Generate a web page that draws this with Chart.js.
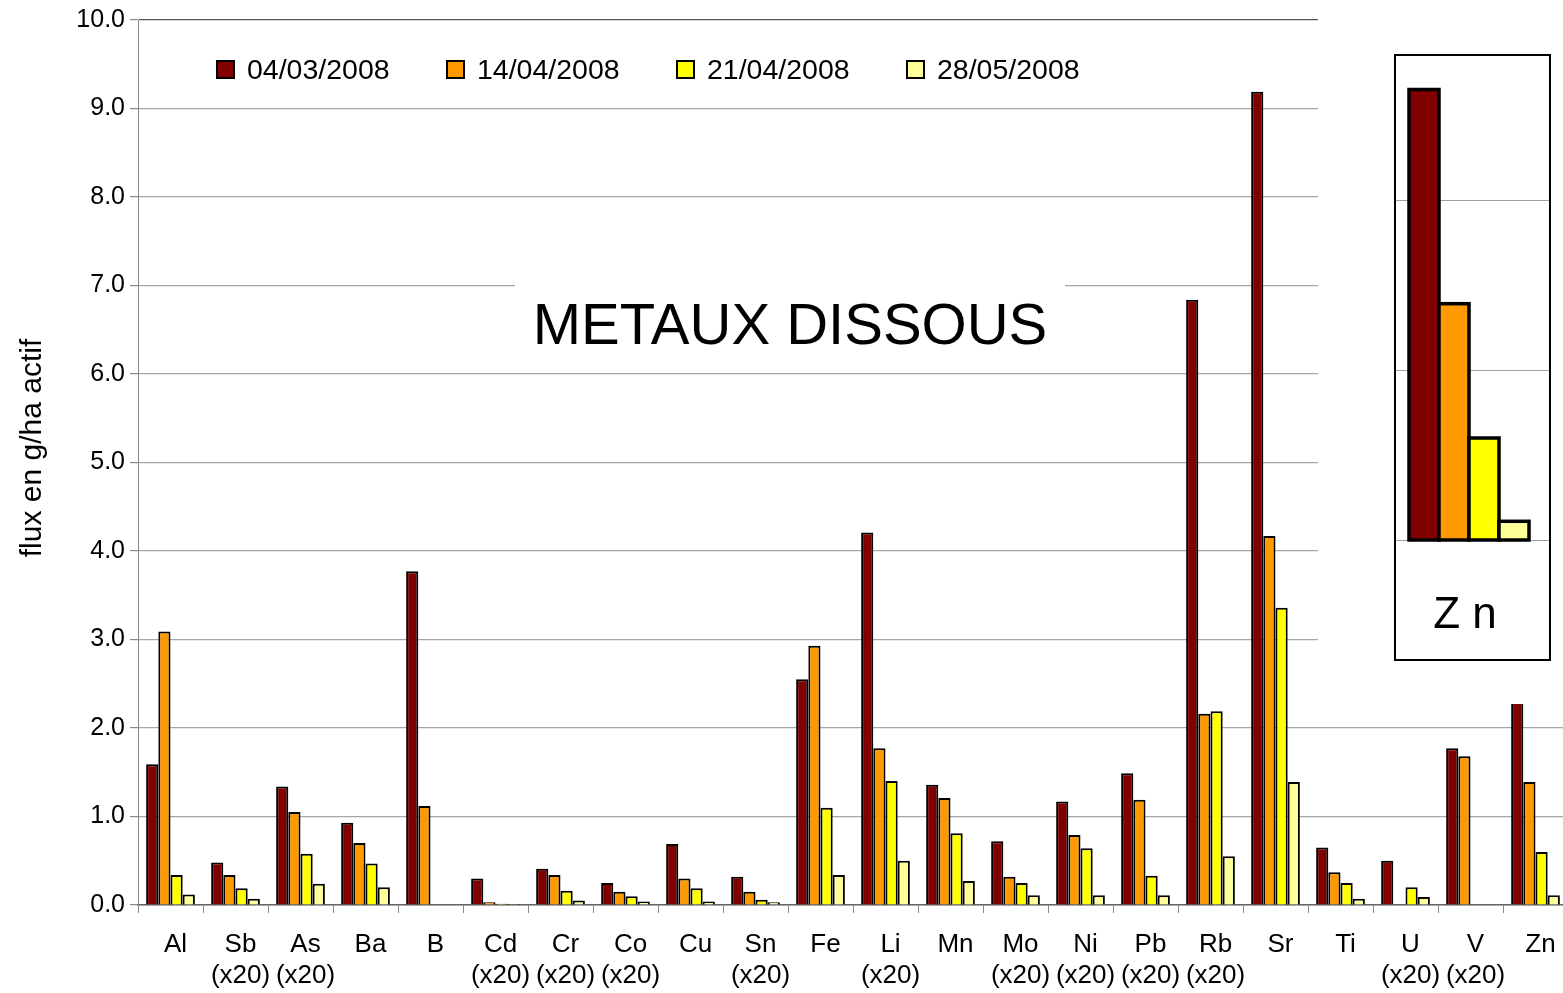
<!DOCTYPE html>
<html>
<head>
<meta charset="utf-8">
<style>
  html, body { margin: 0; padding: 0; background: #fff; overflow: hidden; }
  canvas { display: block; }
</style>
<script src="https://cdn.jsdelivr.net/npm/chart.js@4/dist/chart.umd.min.js"></script>
</head>
<body>
<canvas id="chart-metaux" width="1570" height="993"></canvas>
<script>
// Data -------------------------------------------------------------------
var elements = [
  ["Al"], ["Sb", "(x20)"], ["As", "(x20)"], ["Ba"], ["B"], ["Cd", "(x20)"],
  ["Cr", "(x20)"], ["Co", "(x20)"], ["Cu"], ["Sn", "(x20)"], ["Fe"], ["Li", "(x20)"],
  ["Mn"], ["Mo", "(x20)"], ["Ni", "(x20)"], ["Pb", "(x20)"], ["Rb", "(x20)"], ["Sr"],
  ["Ti"], ["U", "(x20)"], ["V", "(x20)"], ["Zn"]
];
var dates = ["04/03/2008", "14/04/2008", "21/04/2008", "28/05/2008"];
var flux0403 = [1.59, 0.48, 1.34, 0.93, 3.77, 0.30, 0.41, 0.25, 0.69, 0.32, 2.55, 4.21, 1.36, 0.72, 1.17, 1.49, 6.84, 9.19, 0.65, 0.50, 1.77, 2.65];
var flux1404 = [3.09, 0.34, 1.05, 0.70, 1.12, 0.03, 0.34, 0.15, 0.30, 0.15, 2.93, 1.77, 1.21, 0.32, 0.79, 1.19, 2.16, 4.17, 0.37, null, 1.68, 1.39];
var flux2104 = [0.34, 0.19, 0.58, 0.47, null, 0.015, 0.16, 0.10, 0.19, 0.06, 1.10, 1.40, 0.81, 0.25, 0.64, 0.33, 2.19, 3.36, 0.25, 0.20, null, 0.60];
var flux2805 = [0.12, 0.07, 0.24, 0.20, null, 0.01, 0.05, 0.04, 0.04, 0.03, 0.34, 0.50, 0.27, 0.11, 0.11, 0.11, 0.55, 1.39, 0.07, 0.09, null, 0.11];
var yTicks = [0, 1, 2, 3, 4, 5, 6, 7, 8, 9, 10];
var colours = ["#800000", "#ff9900", "#ffff00", "#ffff99"];

var FONT = "'Liberation Sans', Arial, sans-serif";

// Decorations: axis title, legend, title, Zn inset ---------------------------
var decorations = {
  id: "decorations",
  afterDatasetsDraw: function (chart) {
    var ctx = chart.ctx;
    ctx.save();

    // y axis title
    ctx.save();
    ctx.translate(33, 448);
    ctx.rotate(-Math.PI / 2);
    ctx.fillStyle = "#000";
    ctx.font = "30px " + FONT;
    ctx.textAlign = "center";
    ctx.textBaseline = "middle";
    ctx.fillText("flux en g/ha actif", 0, 0);
    ctx.restore();

    // white patch top right, hides grid and the top of Zn bar
    ctx.fillStyle = "#fff";
    ctx.fillRect(1318, 0, 260, 704);

    // legend
    ctx.font = "28.5px " + FONT;
    ctx.textBaseline = "middle";
    ctx.textAlign = "left";
    chart.data.datasets.forEach(function (ds, i) {
      var x = 217 + i * 230;
      ctx.fillStyle = ds.backgroundColor;
      ctx.fillRect(x, 61, 17, 17);
      ctx.lineWidth = 2;
      ctx.strokeStyle = "#000";
      ctx.strokeRect(x, 61, 17, 17);
      ctx.fillStyle = "#000";
      ctx.fillText(ds.label, x + 30, 71);
    });

    // title with white background
    ctx.fillStyle = "#fff";
    ctx.fillRect(515, 270, 550, 90);
    ctx.fillStyle = "#000";
    ctx.font = "58px " + FONT;
    ctx.textAlign = "center";
    ctx.textBaseline = "alphabetic";
    ctx.fillText("METAUX DISSOUS", 790, 344);

    // Zn inset (magnified copy of the last group)
    var bx = 1395, by = 55, bw = 155, bh = 605, base = 540, unit = 170;
    ctx.fillStyle = "#fff";
    ctx.fillRect(bx, by, bw, bh);
    ctx.strokeStyle = "#a0a0a0";
    ctx.lineWidth = 1;
    for (var k = 0; k < 3; k++) {
      ctx.beginPath();
      ctx.moveTo(bx, base - k * unit + 0.5);
      ctx.lineTo(bx + bw, base - k * unit + 0.5);
      ctx.stroke();
    }
    var last = chart.data.labels.length - 1;
    chart.data.datasets.forEach(function (ds, i) {
      var v = ds.data[last];
      if (v == null) return;
      var x = 1409 + i * 30, h = v * unit;
      ctx.fillStyle = ds.backgroundColor;
      ctx.fillRect(x, base - h, 30, h);
      ctx.lineWidth = 3.5;
      ctx.strokeStyle = "#000";
      ctx.strokeRect(x, base - h, 30, h);
    });
    ctx.lineWidth = 2;
    ctx.strokeStyle = "#000";
    ctx.strokeRect(bx, by, bw, bh);
    ctx.fillStyle = "#000";
    ctx.font = "44px " + FONT;
    ctx.textAlign = "center";
    ctx.fillText("Z n", 1465, 628);

    ctx.restore();
  }
};

// Chart ------------------------------------------------------------------
var series = [flux0403, flux1404, flux2104, flux2805];
new Chart(document.getElementById("chart-metaux"), {
  type: "bar",
  data: {
    labels: elements,
    datasets: dates.map(function (d, i) {
      return {
        label: d,
        data: series[i],
        backgroundColor: colours[i],
        borderColor: "#000",
        borderWidth: 2,
        borderSkipped: "bottom",
        categoryPercentage: 0.75,
        barPercentage: 1.0
      };
    })
  },
  options: {
    responsive: false,
    animation: false,
    layout: { padding: { top: 18, right: 2, left: 0, bottom: 0 } },
    plugins: {
      legend: { display: false },
      tooltip: { enabled: false }
    },
    scales: {
      x: {
        afterFit: function (s) { s.height = 88; },
        grid: { offset: true, drawOnChartArea: false, tickLength: 8, color: "#888" },
        border: { color: "#666", width: 1.5 },
        ticks: {
          color: "#000",
          font: { family: FONT, size: 26, lineHeight: 1.2 },
          padding: 16,
          labelOffset: 5,
          autoSkip: false,
          maxRotation: 0
        }
      },
      y: {
        min: 0,
        max: 10,
        afterFit: function (s) { s.width = 138; },
        afterBuildTicks: function (s) { s.ticks = yTicks.map(function (v) { return { value: v }; }); },
        grid: {
          tickLength: 8,
          color: function (c) { return c.tick && c.tick.value === 10 ? "#555" : "#a6a6a6"; },
          tickColor: "#888",
          lineWidth: 1.2
        },
        border: { color: "#888", width: 1 },
        ticks: {
          color: "#000",
          font: { family: FONT, size: 25 },
          padding: 5,
          callback: function (v) { return Number(v).toFixed(1); }
        }
      }
    }
  },
  plugins: [decorations]
});
</script>
</body>
</html>
